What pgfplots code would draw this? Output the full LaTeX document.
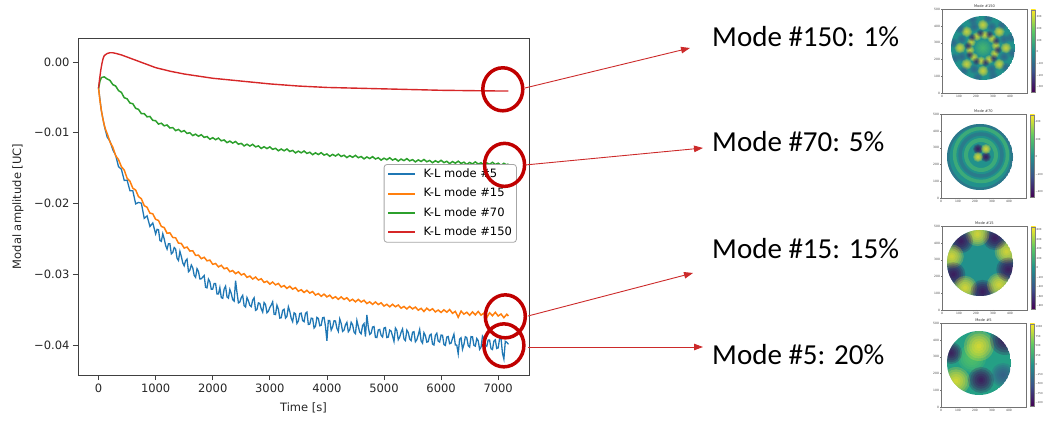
\documentclass[border=0pt]{standalone}
\usepackage{pgfplots}
\pgfplotsset{compat=1.18}
\usepackage{fontspec}
\setmainfont{DejaVu Sans}
\newfontfamily\calibri{Carlito}
\usetikzlibrary{arrows.meta}
\definecolor{tabblue}{HTML}{1F77B4}
\definecolor{taborange}{HTML}{FF7F0E}
\definecolor{tabgreen}{HTML}{2CA02C}
\definecolor{tabred}{HTML}{D62728}
\definecolor{vyellow}{HTML}{FDE725}
\definecolor{vgreen}{HTML}{5EC962}
\definecolor{vteal}{HTML}{21918C}
\definecolor{vtealg}{HTML}{24A085}
\definecolor{vblue}{HTML}{3B528B}
\definecolor{vpurple}{HTML}{440154}
\definecolor{circred}{HTML}{C00000}
\definecolor{arrred}{HTML}{CC2A2A}
\pgfdeclareverticalshading{viridisbar}{100bp}{color(0bp)=(vpurple); color(25bp)=(vpurple); color(37.5bp)=(vblue); color(50bp)=(vteal); color(62.5bp)=(vgreen); color(75bp)=(vyellow); color(100bp)=(vyellow)}
\newcommand{\tfont}{\fontsize{11.5}{13.8}\selectfont}
\newcommand{\blob}[4][0.22]{\foreach \k in {1,...,6}{\fill[#2, opacity=#1] (#3) circle ({#4*\k/6});}}
\newcommand{\panel}[6]{%
\begin{scope}[shift={(#1,#2)}]
\draw[black!55, line width=0.35pt] (0,0) rectangle (85,84);
\node[font=\fontsize{3.6}{4}\selectfont, anchor=south, inner sep=0.8pt, black!80] at (42.5,84) {#3};
\foreach \v [count=\i from 0] in {0,100,200,300,400} {\draw[black!55, line width=0.3pt] (\i*17,0) -- (\i*17,-1.2); \node[font=\fontsize{3}{3.5}\selectfont, anchor=north, inner sep=0.8pt, black!75] at (\i*17,-1.1) {\v};}
\foreach \v [count=\i from 0] in {0,100,200,300,400,500} {\draw[black!55, line width=0.3pt] (0,\i*16.7) -- (-1.2,\i*16.7); \node[font=\fontsize{3}{3.5}\selectfont, anchor=east, inner sep=0.8pt, black!75] at (-1.1,\i*16.7) {\v};}
\shade[shading=viridisbar] (89,1) rectangle (93.5,83);
\draw[black!50, line width=0.3pt] (89,1) rectangle (93.5,83);
\foreach \v [count=\i from 0] in {#4} {\node[font=\fontsize{2.6}{3}\selectfont, anchor=west, inner sep=0.6pt, black!75] at (93.8,#5+\i*#6) {\v};}
\end{scope}}
\begin{document}
\begin{tikzpicture}[x=1pt,y=1pt]
\useasboundingbox (0,0) rectangle (1043,420);
\begin{axis}[
  at={(78pt,45pt)}, anchor=south west, scale only axis,
  width=451pt, height=337pt,
  xmin=-360, xmax=7540, ymin=-0.04424, ymax=0.00339,
  xtick={0,1000,2000,3000,4000,5000,6000,7000},
  xticklabels={0,1000,2000,3000,4000,5000,6000,7000},
  ytick={-0.04,-0.03,-0.02,-0.01,0},
  yticklabels={−0.04,−0.03,−0.02,−0.01,0.00},
  scaled x ticks=false, scaled y ticks=false,
  tick align=outside, major tick length=5pt,
  xtick pos=bottom, ytick pos=left,
  tick style={black!75, line width=0.8pt},
  axis line style={black!75, line width=0.8pt},
  ticklabel style={font=\tfont, text=black!85},
  xlabel={Time [s]}, ylabel={Modal amplitude [UC]},
  label style={font=\tfont, text=black!85},
  xlabel style={at={(axis description cs:0.5,-0.098)}, anchor=center},
  ylabel style={at={(axis description cs:-0.133,0.5)}, anchor=center},
  legend style={at={(axis description cs:0.973,0.626)}, anchor=north east,
    draw=black!35, line width=0.8pt, rounded corners=3pt, fill=white, font=\tfont,
    inner xsep=3pt, inner ysep=3pt, row sep=5.3pt,
    nodes={inner sep=1.5pt, text height=8.5pt, text depth=2.5pt},
    /tikz/every odd column/.append style={column sep=6pt}},
  legend cell align=left,
  legend image code/.code={\draw[#1, line width=1.9pt] (0pt,0pt) -- (27pt,0pt);},
]
\addplot[tabblue, line width=1.3pt] coordinates {
(0,-0.0037) (50,-0.0069) (100,-0.0090) (150,-0.0106) (200,-0.0112) (250,-0.0124) (300,-0.0132) (350,-0.0148) (400,-0.01515) (450,-0.01675) (500,-0.0167) (550,-0.0182) (600,-0.0182) (650,-0.02005) (700,-0.01985) (750,-0.01995) (800,-0.0221) (850,-0.02175) (900,-0.02325) (950,-0.02275)
(1000,-0.0243) (1025,-0.02365) (1050,-0.0237) (1075,-0.02523) (1100,-0.02535) (1125,-0.02428) (1150,-0.0250) (1175,-0.02593) (1200,-0.02645) (1225,-0.02568) (1250,-0.0257) (1275,-0.02711) (1300,-0.02692) (1325,-0.02623) (1350,-0.02644) (1375,-0.02775) (1400,-0.02806) (1425,-0.02677) (1450,-0.02748) (1475,-0.02839) (1500,-0.0288) (1525,-0.02808) (1550,-0.02786) (1575,-0.02964) (1600,-0.02942) (1625,-0.0287) (1650,-0.02908) (1675,-0.03016) (1700,-0.03044) (1725,-0.02922) (1750,-0.0296) (1775,-0.03067) (1800,-0.03064) (1825,-0.03041) (1850,-0.03018) (1875,-0.03185) (1900,-0.03192) (1925,-0.03069) (1950,-0.03106) (1975,-0.03213) (2000,-0.0321)
(2025,-0.0313) (2050,-0.0313) (2075,-0.0328) (2100,-0.0328) (2125,-0.0319) (2150,-0.0333) (2175,-0.0334) (2200,-0.0321) (2225,-0.0317) (2250,-0.0332) (2275,-0.03338) (2300,-0.03215) (2325,-0.03273) (2350,-0.0336) (2375,-0.0338) (2400,-0.0309) (2425,-0.03258) (2450,-0.03405) (2475,-0.03393) (2500,-0.0333) (2525,-0.03298) (2550,-0.03445) (2575,-0.03463) (2600,-0.0333) (2625,-0.03375) (2650,-0.0344) (2675,-0.03458) (2700,-0.03365) (2725,-0.03333) (2750,-0.0351) (2775,-0.03498) (2800,-0.03405) (2825,-0.03413) (2850,-0.0349) (2875,-0.03535) (2900,-0.0340) (2925,-0.03428) (2950,-0.03545) (2975,-0.03523) (3000,-0.0347)
(3025,-0.03435) (3050,-0.0339) (3075,-0.03565) (3100,-0.0357) (3125,-0.03438) (3150,-0.03495) (3175,-0.0362) (3200,-0.03615) (3225,-0.0351) (3250,-0.03495) (3275,-0.0362) (3300,-0.03595) (3325,-0.0346) (3350,-0.03525) (3375,-0.03623) (3400,-0.0367) (3425,-0.03545) (3450,-0.0356) (3475,-0.03695) (3500,-0.0366) (3525,-0.03555) (3550,-0.0355) (3575,-0.03655) (3600,-0.0367) (3625,-0.03553) (3650,-0.03535) (3675,-0.0371) (3700,-0.03705) (3725,-0.0362) (3750,-0.03625) (3775,-0.0376) (3800,-0.03735) (3825,-0.0361) (3850,-0.03625) (3875,-0.03728) (3900,-0.0372) (3925,-0.03615) (3950,-0.0361) (3975,-0.03735) (4000,-0.0394)
(4025,-0.03653) (4050,-0.03655) (4075,-0.0379) (4100,-0.03745) (4125,-0.03658) (4150,-0.0366) (4175,-0.03764) (4200,-0.03808) (4225,-0.03632) (4250,-0.03695) (4275,-0.03808) (4300,-0.0379) (4325,-0.03715) (4350,-0.0368) (4375,-0.03813) (4400,-0.03785) (4425,-0.03679) (4450,-0.03713) (4475,-0.03817) (4500,-0.0384) (4525,-0.03653) (4550,-0.03736) (4575,-0.03819) (4600,-0.03842) (4625,-0.03725) (4650,-0.03698) (4675,-0.03881) (4700,-0.03574) (4725,-0.03747) (4750,-0.0385) (4775,-0.03833) (4800,-0.03746) (4825,-0.03739) (4850,-0.03892) (4875,-0.03895) (4900,-0.03788) (4925,-0.03781) (4950,-0.03864) (4975,-0.03887) (5000,-0.0376)
(5025,-0.03753) (5050,-0.03895) (5075,-0.03888) (5100,-0.0379) (5125,-0.03803) (5150,-0.03875) (5175,-0.03948) (5200,-0.0376) (5225,-0.03793) (5250,-0.03925) (5275,-0.03888) (5300,-0.0382) (5325,-0.03773) (5350,-0.03915) (5375,-0.03938) (5400,-0.0379) (5425,-0.03823) (5450,-0.03915) (5475,-0.03938) (5500,-0.0382) (5525,-0.03812) (5550,-0.03954) (5575,-0.03926) (5600,-0.03858) (5625,-0.0378) (5650,-0.03942) (5675,-0.03974) (5700,-0.03826) (5725,-0.03868) (5750,-0.0396) (5775,-0.03952) (5800,-0.03864) (5825,-0.03846) (5850,-0.03988) (5875,-0.0400) (5900,-0.03862) (5925,-0.03834) (5950,-0.03946) (5975,-0.03958) (6000,-0.0386)
(6025,-0.03862) (6050,-0.03994) (6075,-0.04006) (6100,-0.03888) (6125,-0.0388) (6150,-0.03982) (6175,-0.03974) (6200,-0.03906) (6225,-0.03848) (6250,-0.0400) (6275,-0.04002) (6300,-0.04124) (6325,-0.03916) (6350,-0.03898) (6375,-0.0406) (6400,-0.03992) (6425,-0.03884) (6450,-0.03896) (6475,-0.04008) (6500,-0.0403) (6525,-0.03882) (6550,-0.03883) (6575,-0.04005) (6600,-0.04016) (6625,-0.03908) (6650,-0.03939) (6675,-0.04061) (6700,-0.04032) (6725,-0.03874) (6750,-0.03905) (6775,-0.04007) (6800,-0.04018) (6825,-0.0393) (6850,-0.03931) (6875,-0.04053) (6900,-0.04064) (6925,-0.03946) (6950,-0.03927) (6975,-0.04049) (7000,-0.0404) (7025,-0.03912) (7050,-0.03903) (7075,-0.04115) (7100,-0.04197) (7125,-0.03948) (7150,-0.0396) (7180,-0.0399)
};
\addlegendentry{K-L mode \#5}
\addplot[taborange, line width=1.5pt] coordinates {
(0,-0.0037) (25,-0.0055) (50,-0.0069) (75,-0.0080) (100,-0.0089) (125,-0.0096) (150,-0.0101) (200,-0.0113) (250,-0.01205) (300,-0.01325) (350,-0.0138) (400,-0.0148) (450,-0.01528) (500,-0.01643) (550,-0.01685) (600,-0.01784) (650,-0.0181) (700,-0.01903) (750,-0.01933) (800,-0.0203) (850,-0.02054) (900,-0.02136) (950,-0.02146) (1000,-0.02224) (1050,-0.0224) (1100,-0.02325) (1150,-0.0234) (1200,-0.0242) (1250,-0.02415) (1300,-0.0248) (1350,-0.02485) (1400,-0.0256) (1450,-0.02565) (1500,-0.0263) (1550,-0.02616) (1600,-0.02672) (1650,-0.02668) (1700,-0.02734) (1750,-0.0273) (1800,-0.0278) (1850,-0.0276) (1900,-0.0281) (1950,-0.0280) (2000,-0.0286)
(2050,-0.02848) (2100,-0.02896) (2150,-0.02874) (2200,-0.02922) (2250,-0.0291) (2300,-0.02964) (2350,-0.02948) (2400,-0.02992) (2450,-0.02966) (2500,-0.0301) (2550,-0.02992) (2600,-0.03044) (2650,-0.03026) (2700,-0.03068) (2750,-0.0304) (2800,-0.03082) (2850,-0.03064) (2900,-0.03116) (2950,-0.03098) (3000,-0.0314) (3050,-0.0311) (3100,-0.0315) (3150,-0.0313) (3200,-0.0318) (3250,-0.0316) (3300,-0.0320) (3350,-0.0317) (3400,-0.0321) (3450,-0.0319) (3500,-0.0324) (3550,-0.03219) (3600,-0.03258) (3650,-0.03227) (3700,-0.03266) (3750,-0.03245) (3800,-0.03294) (3850,-0.03273) (3900,-0.03312) (3950,-0.03281) (4000,-0.0332)
(4050,-0.03296) (4100,-0.03342) (4150,-0.03318) (4200,-0.03354) (4250,-0.0332) (4300,-0.03356) (4350,-0.03332) (4400,-0.03378) (4450,-0.03354) (4500,-0.0339) (4550,-0.03356) (4600,-0.03392) (4650,-0.03368) (4700,-0.03414) (4750,-0.0339) (4800,-0.03426) (4850,-0.03392) (4900,-0.03428) (4950,-0.03404) (5000,-0.0345) (5050,-0.03425) (5100,-0.0346) (5150,-0.03425) (5200,-0.0346) (5250,-0.03435) (5300,-0.0348) (5350,-0.03455) (5400,-0.0349) (5450,-0.03455) (5500,-0.0349) (5550,-0.03464) (5600,-0.03508) (5650,-0.03482) (5700,-0.03526) (5750,-0.0348) (5800,-0.03514) (5850,-0.03488) (5900,-0.03532) (5950,-0.03506) (6000,-0.0354)
(6050,-0.03503) (6100,-0.03536) (6150,-0.03499) (6200,-0.03552) (6250,-0.03525) (6300,-0.03608) (6350,-0.03521) (6400,-0.03564) (6450,-0.03537) (6500,-0.0358) (6550,-0.03532) (6600,-0.03574) (6650,-0.03526) (6700,-0.03578) (6750,-0.0355) (6800,-0.03612) (6850,-0.03544) (6900,-0.03586) (6950,-0.03538) (7000,-0.0359) (7050,-0.03562) (7100,-0.03614) (7150,-0.03566) (7180,-0.0359)
};
\addlegendentry{K-L mode \#15}
\addplot[tabgreen, line width=1.5pt] coordinates {
(0,-0.0037) (25,-0.0027) (50,-0.0022) (100,-0.0021) (150,-0.0024) (200,-0.0026) (250,-0.0032) (300,-0.0034) (350,-0.00405) (400,-0.0043) (450,-0.00505) (500,-0.0052) (550,-0.0058) (600,-0.0059) (650,-0.00655) (700,-0.0067) (750,-0.0073) (800,-0.0073) (850,-0.00775) (900,-0.0077) (950,-0.00825) (1000,-0.0083) (1050,-0.00878) (1100,-0.00865) (1150,-0.00903) (1200,-0.0089) (1250,-0.00933) (1300,-0.00927) (1350,-0.0097) (1400,-0.00953) (1450,-0.00987) (1500,-0.0097) (1550,-0.0101) (1600,-0.0100) (1650,-0.0104) (1700,-0.0102) (1750,-0.0105) (1800,-0.01028) (1850,-0.01066) (1900,-0.01054) (1950,-0.01092) (2000,-0.0107)
(2050,-0.01098) (2100,-0.01076) (2150,-0.01114) (2200,-0.01102) (2250,-0.0114) (2300,-0.01118) (2350,-0.01146) (2400,-0.01124) (2450,-0.01162) (2500,-0.0115) (2550,-0.01186) (2600,-0.01162) (2650,-0.01188) (2700,-0.01164) (2750,-0.0120) (2800,-0.01186) (2850,-0.01222) (2900,-0.01198) (2950,-0.01224) (3000,-0.0120) (3050,-0.01235) (3100,-0.0122) (3150,-0.01255) (3200,-0.0123) (3250,-0.01255) (3300,-0.0123) (3350,-0.01265) (3400,-0.0125) (3450,-0.01285) (3500,-0.0126) (3550,-0.01284) (3600,-0.01258) (3650,-0.01292) (3700,-0.01276) (3750,-0.0131) (3800,-0.01284) (3850,-0.01308) (3900,-0.01282) (3950,-0.01316) (4000,-0.0130)
(4050,-0.01333) (4100,-0.01306) (4150,-0.01329) (4200,-0.01302) (4250,-0.01335) (4300,-0.01318) (4350,-0.01351) (4400,-0.01324) (4450,-0.01347) (4500,-0.0132) (4550,-0.01353) (4600,-0.01336) (4650,-0.01369) (4700,-0.01342) (4750,-0.01365) (4800,-0.01338) (4850,-0.01371) (4900,-0.01354) (4950,-0.01387) (5000,-0.0136) (5050,-0.01382) (5100,-0.01354) (5150,-0.01386) (5200,-0.01368) (5250,-0.0140) (5300,-0.01372) (5350,-0.01394) (5400,-0.01366) (5450,-0.01398) (5500,-0.0138) (5550,-0.01412) (5600,-0.01384) (5650,-0.01406) (5700,-0.01378) (5750,-0.0141) (5800,-0.01392) (5850,-0.01424) (5900,-0.01396) (5950,-0.01418) (6000,-0.0139)
(6050,-0.01422) (6100,-0.01404) (6150,-0.01436) (6200,-0.01408) (6250,-0.0143) (6300,-0.01402) (6350,-0.01434) (6400,-0.01416) (6450,-0.01448) (6500,-0.0142) (6550,-0.01441) (6600,-0.01412) (6650,-0.01443) (6700,-0.01424) (6750,-0.01455) (6800,-0.01426) (6850,-0.01447) (6900,-0.01418) (6950,-0.01449) (7000,-0.0143) (7050,-0.01461) (7100,-0.01432) (7150,-0.01455) (7180,-0.0144)
};
\addlegendentry{K-L mode \#70}
\addplot[tabred, line width=1.4pt] coordinates {
(0,-0.0037) (10,-0.0030) (20,-0.0023) (40,-0.0011) (60,-0.0002) (80,0.0005) (100,0.0009) (150,0.0012) (200,0.0013) (250,0.0013) (300,0.00122) (400,0.0010) (500,0.0007) (600,0.0004) (700,0.0001) (800,-0.0002) (900,-0.0005) (1000,-0.0008) (1250,-0.0013) (1500,-0.0017) (1750,-0.0020) (2000,-0.0023) (2250,-0.0025) (2500,-0.0027) (2750,-0.0029) (3000,-0.0031) (3500,-0.0034) (4000,-0.0036) (4500,-0.0037) (5000,-0.0038) (5500,-0.0039) (6000,-0.0040) (6500,-0.00405) (7000,-0.0041) (7180,-0.0041)
};
\addlegendentry{K-L mode \#150}
\coordinate (c1) at (axis cs:7081,-0.00386);
\coordinate (c2) at (axis cs:7112,-0.01454);
\coordinate (c3) at (axis cs:7125,-0.03595);
\coordinate (c4) at (axis cs:7100,-0.04005);
\end{axis}
% circles
\draw[circred, line width=3.5pt] (c1) ellipse (20 and 21.5);
\draw[circred, line width=3.5pt] (c2) ellipse (20 and 21.5);
\draw[circred, line width=3.5pt] (c3) ellipse (20 and 21.5);
\draw[circred, line width=3.5pt] (c4) ellipse (20 and 21.5);
% arrows
\begin{scope}[arrred, line width=0.9pt, -{Triangle[length=9pt,width=6.5pt]}]
\draw (525,332) -- (690,372);
\draw (525,255) -- (703,272);
\draw (528,104) -- (693,147);
\draw (528,73) -- (703,73);
\end{scope}
% annotation text
\begin{scope}[every node/.style={anchor=base west, inner sep=0pt, font=\calibri\fontsize{29}{32}\selectfont}]
\node at (712,373) {Mode \#150: 1\%};
\node at (712,268) {Mode \#70: 5\%};
\node at (712,161) {Mode \#15: 15\%};
\node at (712,55) {Mode \#5: 20\%};
\end{scope}
% mode panels
\panel{942}{327}{Mode \#150}{−300,−200,−100,0,100,200,300}{6}{11.7}
\panel{941}{222}{Mode \#70}{−400,−200,0,200,400}{6}{17.5}
\panel{942}{110}{Mode \#15}{−800,−600,−400,−200,0,200,400,600,800}{4}{9.5}
\panel{941}{13}{Mode \#5}{−1000,−750,−500,−250,0,250,500,750,1000}{4}{9.5}
% mode 150
\begin{scope}
\clip (983,372) circle (32);
\fill[vteal] (983,372) circle (32);
\foreach \a in {0,45,...,315} {\blob[0.2]{vyellow}{[shift={(983,372)}]\a:23}{5.5} \blob[0.14]{vblue}{[shift={(983,372)}]\a+22.5:23}{5}}
\foreach \a in {10,46,...,334} {\blob[0.18]{vyellow}{[shift={(983,372)}]\a:13}{4.5}}
\foreach \a in {28,64,...,352} {\blob[0.12]{vpurple}{[shift={(983,372)}]\a:15}{4}}
\foreach \a in {20,50,...,350} {\blob[0.14]{vblue}{[shift={(983,372)}]\a:30}{5}}
\blob[0.15]{vgreen}{983,372}{8}
\end{scope}
% mode 70
\begin{scope}
\clip (980,263) circle (33);
\fill[vteal] (980,263) circle (33);
\draw[vgreen, opacity=0.45, line width=4pt] (981,265) circle (15);
\draw[vblue, opacity=0.35, line width=3.5pt] (981,265) circle (21);
\draw[vgreen, opacity=0.45, line width=3.5pt] (981,265) circle (26.5);
\draw[vblue, opacity=0.4, line width=3pt] (980,263) circle (32);
\blob{vpurple}{978,271}{5}
\blob{vpurple}{986,263}{5}
\blob{vyellow}{986,271}{5}
\blob{vyellow}{978,263}{5}
\end{scope}
% mode 15
\begin{scope}
\clip (980,157) circle (33);
\fill[vteal] (980,157) circle (33);
\foreach \a in {23,95,167,239,311} {\blob{vyellow}{[shift={(980,157)}]\a:29}{12} \blob{vpurple}{[shift={(980,157)}]\a+36:29}{12}}
\end{scope}
% mode 5
\begin{scope}
\clip (979,57) circle (32);
\fill[vtealg] (979,57) circle (32);
\blob{vgreen}{972,62}{14}
\blob{vyellow}{979,74}{15}
\blob{vyellow}{956,39}{14}
\blob{vpurple}{1005,80}{15}
\blob{vpurple}{981,40}{13}
\blob{vpurple}{951,67}{11}
\blob{vblue}{1003,45}{12}
\end{scope}
\end{tikzpicture}
\end{document}
